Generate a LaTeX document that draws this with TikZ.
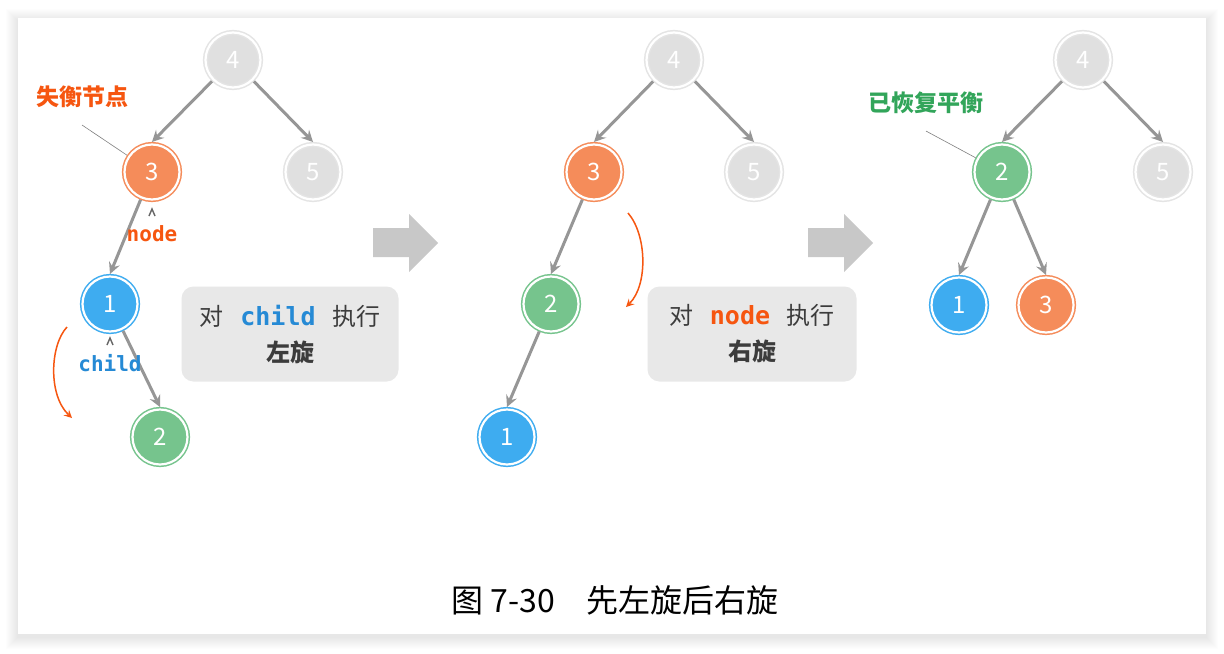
\documentclass[tikz,border=0pt]{standalone}
\usepackage{fontspec}
\setmainfont{Noto Sans CJK SC}
\setmonofont{DejaVu Sans Mono}
\usetikzlibrary{positioning,arrows}

\definecolor{nodegray}{RGB}{224,224,224}
\definecolor{ringgray}{RGB}{228,228,228}
\definecolor{nodeorange}{RGB}{245,140,90}
\definecolor{nodeblue}{RGB}{62,172,240}
\definecolor{nodegreen}{RGB}{118,196,141}
\definecolor{hlorange}{RGB}{246,86,16}
\definecolor{hlblue}{RGB}{38,138,213}
\definecolor{hlgreen}{RGB}{50,165,90}
\definecolor{edgegray}{RGB}{150,150,150}
\definecolor{boxgray}{RGB}{232,232,232}
\definecolor{arrowgray}{RGB}{200,200,200}
\definecolor{textdark}{RGB}{60,60,60}

\tikzset{
  tnode/.style={circle, minimum size=27.5pt, inner sep=0pt, outer sep=1.25pt,
    line width=0.75pt, double=white, double distance=1.1pt, text=white,
    font=\fontsize{12}{14}\selectfont},
  graynode/.style={tnode, fill=nodegray, draw=ringgray},
  orangenode/.style={tnode, fill=nodeorange, draw=nodeorange},
  bluenode/.style={tnode, fill=nodeblue, draw=nodeblue},
  greennode/.style={tnode, fill=nodegreen, draw=nodegreen},
  edge/.style={->, draw=edgegray, line width=1.5pt},
  turn/.style={->, draw=hlorange, line width=0.75pt},
  leader/.style={draw=gray, line width=0.3pt},
  caret/.style={draw=gray!80!black, line width=0.7pt},
  tag/.style={font=\fontsize{11.5}{13}\selectfont\bfseries},
  varname/.style={font=\fontsize{10.5}{12}\selectfont\ttfamily\bfseries},
  opbox/.style={rounded corners=6pt, fill=boxgray, minimum height=47.5pt,
    align=center, text=textdark, font=\fontsize{12}{18}\selectfont},
}

\begin{document}
\begin{tikzpicture}[x=0.5pt, y=-0.5pt, >=stealth]
  \useasboundingbox (0,0) rectangle (1224,653);

  % 卡片阴影与底色
  \foreach \i in {1,...,12}
    \fill[black, opacity=0.006] (18-\i,18-\i+3) rectangle (1206+\i,634+\i+3);
  \fill[white] (18,18) rectangle (1206,634);

  % 第一棵树：失衡
  \node[graynode]   (a4) at (233,60)  {4};
  \node[orangenode] (a3) at (152,172) {3};
  \node[graynode]   (a5) at (313,172) {5};
  \node[bluenode]   (a1) at (110,304) {1};
  \node[greennode]  (a2) at (160,437) {2};
  \draw[edge] (a4) -- (a3.north);
  \draw[edge] (a4) -- (a5.north);
  \draw[edge] (a3) -- (a1.north);
  \draw[edge] (a1) -- (a2.north);

  % 失衡节点标注
  \node[tag, text=hlorange] (lost) at (82,97) {失衡节点};
  \draw[leader] ([yshift=-5pt]lost.south) -- (a3);
  \node[varname, text=hlorange, below=8pt of a3] (lblnode) {node};
  \draw[caret] ([shift={(-3,-2)}]lblnode.north) -- ([shift={(0,-9)}]lblnode.north) -- ([shift={(3,-2)}]lblnode.north);
  \node[varname, text=hlblue, below=6.5pt of a1] (lblchild) {child};
  \draw[caret] ([shift={(-3,-2)}]lblchild.north) -- ([shift={(0,-9)}]lblchild.north) -- ([shift={(3,-2)}]lblchild.north);

  % 左旋方向
  \coordinate (t1s) at (67,327);
  \coordinate (t1e) at (72,418);
  \draw[turn] (t1s) .. controls (50,345) and (48,395) .. (t1e);

  \node[opbox, minimum width=108.5pt] (op1) at (290,334)
    {对\hspace{0.7em}\textbf{\texttt{\fontsize{12.5}{18}\selectfont\textcolor{hlblue}{child}}}\hspace{0.7em}执行\\ \textbf{左旋}};

  % 过程箭头
  \foreach \dx in {0,435}
    \fill[arrowgray] (373+\dx,228) -- (409+\dx,228) -- (409+\dx,214) -- (438+\dx,243)
      -- (409+\dx,272) -- (409+\dx,257) -- (373+\dx,257) -- cycle;

  % 第二棵树：左旋之后
  \node[graynode]   (b4) at (674,60)  {4};
  \node[orangenode] (b3) at (594,172) {3};
  \node[graynode]   (b5) at (754,172) {5};
  \node[greennode]  (b2) at (551,304) {2};
  \node[bluenode]   (b1) at (507,437) {1};
  \draw[edge] (b4) -- (b3.north);
  \draw[edge] (b4) -- (b5.north);
  \draw[edge] (b3) -- (b2.north);
  \draw[edge] (b2) -- (b1.north);

  % 右旋方向
  \coordinate (t2s) at (628,213);
  \coordinate (t2e) at (626,307);
  \draw[turn] (t2s) .. controls (647,235) and (648,285) .. (t2e);

  \node[opbox, minimum width=104.5pt] (op2) at (752,334)
    {对\hspace{0.7em}\textbf{\texttt{\fontsize{12.5}{18}\selectfont\textcolor{hlorange}{node}}}\hspace{0.7em}执行\\ \textbf{右旋}};

  % 第三棵树：恢复平衡
  \node[graynode]   (c4) at (1083,60)  {4};
  \node[greennode]  (c2) at (1002,172) {2};
  \node[graynode]   (c5) at (1163,172) {5};
  \node[bluenode]   (c1) at (959,305)  {1};
  \node[orangenode] (c3) at (1046,305) {3};
  \draw[edge] (c4) -- (c2.north);
  \draw[edge] (c4) -- (c5.north);
  \draw[edge] (c2) -- (c1.north);
  \draw[edge] (c2) -- (c3.north);

  \node[tag, text=hlgreen] (balanced) at (926,103) {已恢复平衡};
  \draw[leader] ([yshift=-5pt]balanced.south) -- (c2);

  % 图题
  \node[font=\fontsize{16}{19}\selectfont] (caption) at (615,600) {图 7-30\hspace{1em}先左旋后右旋};

\end{tikzpicture}
\end{document}
